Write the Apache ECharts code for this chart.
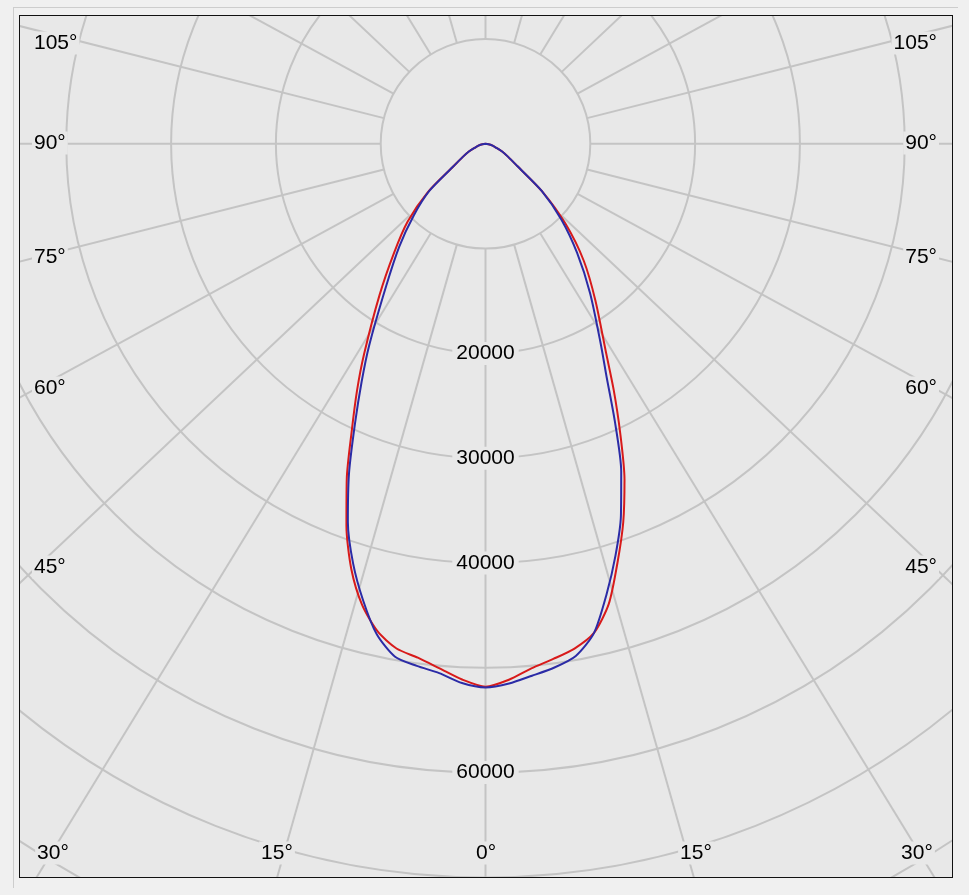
<!DOCTYPE html>
<html><head><meta charset="utf-8">
<script src="https://cdn.jsdelivr.net/npm/echarts@6/dist/echarts.min.js"></script>
<style>
html,body{margin:0;padding:0;background:#f0f0f0;width:969px;height:895px;overflow:hidden;}
#edge{position:absolute;left:13px;top:7px;width:944px;height:880px;border-left:1px solid #cdcdcd;border-top:1px solid #cdcdcd;}
#frame{position:absolute;left:19px;top:15px;width:932px;height:861px;border:1px solid #111;background:#e8e8e8;overflow:hidden;}
#chart{width:932px;height:861px;}
</style></head><body>
<div id="edge"></div>
<div id="frame"><div id="chart"></div></div>
<script>
// gamma angles (degrees from nadir)
const gammaAngles = [0,2.5,5,7.5,10,12.5,15,17.5,20,22.5,25,27.5,30,35,40,45,50,55,60,65,70,75,80,85,90];
// luminous intensity (cd)
const redLeft   = [51800,51170,50250,49460,48900,47640,45530,42570,38800,34590,30190,26550,23170,17630,13560,10500,7200,3700,2500,1750,1050,700,400,150,0];
const redRight  = [51800,51190,50250,49580,48910,47810,45450,41890,38430,34660,30400,26500,23000,18300,14600,10800,7000,3700,2500,1750,1050,700,400,150,0];
const blueLeft  = [51870,51500,50700,50250,49700,47940,45110,42000,38400,34030,29470,25600,22190,16500,12800,9700,7000,3700,2500,1750,1050,700,400,150,0];
const blueRight = [51870,51550,50950,50400,49620,47820,44570,41230,37780,33840,29200,25000,21970,17400,13600,10250,7000,3700,2500,1750,1050,700,400,150,0];
// axis ticks
const radiusTicks = [20000,30000,40000,60000];
const spokeAngles = [0,15,30,45,60,75,90,105,120,135,150,165,180,195,210,225,240,255,270,285,300,315,330,345];
const angleLabelsSide = ['105°','90°','75°','60°','45°'];
const angleLabelsBottom = ['30°','15°','0°','15°','30°'];

const GRID = '#c4c4c4';
const BG = '#e8e8e8';
const FONT = '21px "Liberation Sans", Arial, sans-serif';
const K = 1.06; // horizontal stretch of the spokes in the original drawing

function spokeDir(n){
  const a = n*Math.PI/180;
  let ang = Math.atan2(Math.sin(a)*K, Math.cos(a))*180/Math.PI;
  if (ang < 0) ang += 360;
  return ang;
}
function curve(left, right){
  const d = [];
  for (let i = gammaAngles.length-1; i >= 0; i--) d.push([left[i], gammaAngles[i]]);
  for (let i = 1; i < gammaAngles.length; i++) d.push([right[i], 360-gammaAngles[i]]);
  return d;
}

const series = [];
spokeAngles.forEach(n => {
  const a = spokeDir(n);
  series.push({type:'line', coordinateSystem:'polar', data:[[10000,a],[90000,a]], symbol:'none', silent:true,
    lineStyle:{color:GRID, width:2}, z:1, animation:false});
});
series.push({type:'line', coordinateSystem:'polar', name:'C0-C180', data:curve(redLeft, redRight), symbol:'none', smooth:0.25,
  lineStyle:{color:'#d81a1a', width:2}, z:3, animation:false});
series.push({type:'line', coordinateSystem:'polar', name:'C90-C270', data:curve(blueLeft, blueRight), symbol:'none', smooth:0.25,
  lineStyle:{color:'#2b2ba6', width:2}, z:4, animation:false});
series.push({type:'scatter', coordinateSystem:'polar', data:radiusTicks.map(v=>[v,0]), symbolSize:1,
  itemStyle:{color:BG}, silent:true, z:5, animation:false,
  label:{show:true, position:'inside', formatter:p=>String(p.value[0]), color:'#000', fontSize:21,
    textBorderWidth:0, textBorderColor:'transparent', opacity:1,
    fontFamily:'"Liberation Sans", Arial, sans-serif', backgroundColor:BG, padding:[1,4]}});

// angle label positions (chart px)
const sideY = [27,127,241,372,551];
const bottomX = [33,257,466,676,897];
const graphics = [];
angleLabelsSide.forEach((t,i)=>{
  graphics.push({type:'text', x:12, y:sideY[i], z:10, style:{text:t, font:FONT, fill:'#000', align:'left', verticalAlign:'middle', backgroundColor:BG, padding:[1,2]}});
  graphics.push({type:'text', x:919, y:sideY[i], z:10, style:{text:t, font:FONT, fill:'#000', align:'right', verticalAlign:'middle', backgroundColor:BG, padding:[1,2]}});
});
angleLabelsBottom.forEach((t,i)=>{
  graphics.push({type:'text', x:bottomX[i], y:837, z:10, style:{text:t, font:FONT, fill:'#000', align:'center', verticalAlign:'middle', backgroundColor:BG, padding:[1,2]}});
});

const chart = echarts.init(document.getElementById('chart'), null, {renderer:'canvas'});
chart.setOption({
  animation:false,
  backgroundColor:BG,
  polar:{center:[465.5,127.8], radius:943.2},
  angleAxis:{type:'value', min:0, max:360, startAngle:270, clockwise:true,
    axisLine:{show:false}, axisTick:{show:false}, axisLabel:{show:false}, splitLine:{show:false}},
  radiusAxis:{type:'value', min:0, max:90000, interval:10000,
    axisLine:{show:false}, axisTick:{show:false}, axisLabel:{show:false},
    splitLine:{show:true, lineStyle:{color:GRID, width:2}}},
  series:series,
  graphic:graphics
});
</script>
</body></html>
